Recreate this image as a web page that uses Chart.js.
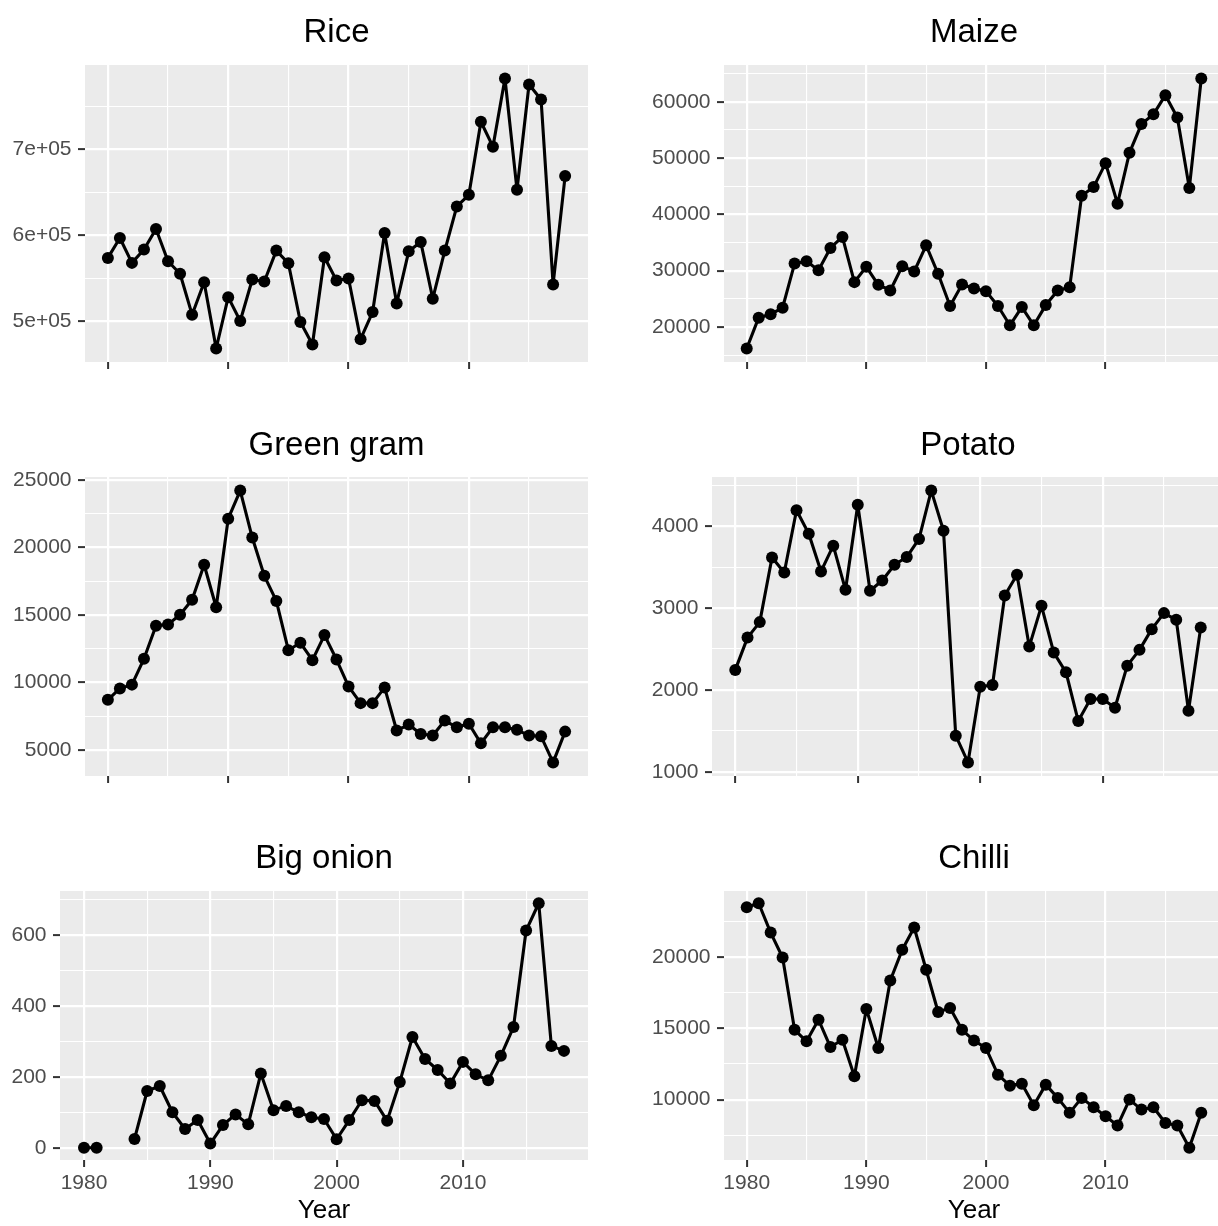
<!DOCTYPE html>
<html>
<head>
<meta charset="utf-8">
<title>Production by crop, 1980–2018</title>
<script src="https://cdn.jsdelivr.net/npm/chart.js@4.4.1/dist/chart.umd.min.js"></script>
<style>
  html, body { margin: 0; padding: 0; background: #ffffff; overflow: hidden; width: 1218px; height: 1226px; position: relative; }
  canvas { position: absolute; display: block; }
</style>
</head>
<body>
<canvas id="rice"></canvas>
<canvas id="maize"></canvas>
<canvas id="greengram"></canvas>
<canvas id="potato"></canvas>
<canvas id="bigonion"></canvas>
<canvas id="chilli"></canvas>
<script>
// ---- data -------------------------------------------------------------
const years = [1980, 1981, 1982, 1983, 1984, 1985, 1986, 1987, 1988, 1989,
               1990, 1991, 1992, 1993, 1994, 1995, 1996, 1997, 1998, 1999,
               2000, 2001, 2002, 2003, 2004, 2005, 2006, 2007, 2008, 2009,
               2010, 2011, 2012, 2013, 2014, 2015, 2016, 2017, 2018];

const rice = [573500, 596700, 567700, 583200, 607200, 569600, 555000, 507400, 545200, 468000,
              527800, 500000, 548400, 546000, 582000, 567300, 498800, 472600, 574200, 547200,
              549500, 478800, 510400, 602600, 520500, 581200, 592100, 526000, 582000, 633400,
              647000, 732000, 703000, 782400, 652800, 775400, 758000, 542600, 669000];

const maize = [16180, 21660, 22250, 23430, 31270, 31680, 30090, 34050, 36000, 27970,
               30690, 27500, 26490, 30800, 29860, 34500, 29450, 23720, 27560, 26850,
               26370, 23720, 20300, 23540, 20300, 23890, 26490, 27080, 43310, 44850,
               49100, 41900, 50970, 56050, 57770, 61180, 57230, 44670, 64140];

const greenGram = [8720, 9560, 9840, 11750, 14200, 14300, 15020, 16120, 18720, 15570,
                   22130, 24210, 20730, 17900, 16040, 12390, 12940, 11650, 13510, 11700,
                   9710, 8470, 8470, 9620, 6440, 6880, 6190, 6070, 7180, 6680,
                   6940, 5490, 6680, 6680, 6490, 6070, 6010, 4080, 6360];

const potato = [2245, 2640, 2829, 3619, 3436, 4195, 3909, 3448, 3763, 3224,
                4264, 3212, 3338, 3530, 3624, 3845, 4436, 3946, 1441, 1115,
                2040, 2061, 3154, 3408, 2530, 3028, 2457, 2217, 1620, 1890,
                1890, 1783, 2297, 2490, 2743, 2939, 2857, 1747, 2763];

// 1982 and 1983 are missing for big onion
const bigOnion = [0, 0, null, null, 25, 160, 174, 100, 53, 78,
                  12, 64, 94, 66, 209, 106, 118, 100, 86, 81,
                  24, 78, 134, 132, 76, 185, 312, 250, 219, 181,
                  242, 207, 190, 259, 340, 612, 689, 287, 273];

const chilli = [23500, 23780, 21720, 19970, 14900, 14090, 15610, 13690, 14200, 11640,
                16360, 13620, 18360, 20510, 22080, 19110, 16150, 16430, 14900, 14140,
                13620, 11750, 10980, 11120, 9600, 11050, 10120, 9070, 10120, 9460,
                8830, 8180, 10000, 9300, 9460, 8360, 8180, 6620, 9070];

// labelled axis breaks; minor gridlines fall halfway between them
const yearBreaks = [1980, 1990, 2000, 2010];
const riceBreaks = [500000, 600000, 700000];
const maizeBreaks = [20000, 30000, 40000, 50000, 60000];
const greenGramBreaks = [5000, 10000, 15000, 20000, 25000];
const potatoBreaks = [1000, 2000, 3000, 4000];
const bigOnionBreaks = [0, 200, 400, 600];
const chilliBreaks = [10000, 15000, 20000];

// ---- styling ----------------------------------------------------------
const FONT = '"Liberation Sans", Arial, Helvetica, sans-serif';
const TITLE_SIZE = 33;
const TICK_SIZE = 21;
const AXIS_TITLE_SIZE = 26;
const PANEL_BG = '#EBEBEB';
const GRID = '#FFFFFF';
const TICK_COLOR = '#333333';
const LABEL_COLOR = '#4D4D4D';
const MAJOR_W = 2.2;
const MINOR_W = 1.1;

// labels like 7e+05
function sci(v) {
  const parts = v.toExponential(0).split('e');
  const sign = parts[1][0] === '-' ? '-' : '+';
  const digits = parts[1].replace(/[+-]/, '').padStart(2, '0');
  return parts[0] + 'e' + sign + digits;
}
const plain = v => String(v);

// ggplot-style 5% expansion of a range
function expand(lo, hi) {
  const d = (hi - lo) * 0.05;
  return [lo - d, hi + d];
}

// major breaks plus the half-way minor breaks that fall inside [min, max]
function breakTicks(breaks, min, max) {
  const half = (breaks[1] - breaks[0]) / 2;
  const out = [];
  for (let v = Math.ceil(min / half) * half; v <= max; v += half) out.push({ value: v });
  return out;
}

const panelBackground = {
  id: 'panelBackground',
  beforeDraw(chart) {
    const a = chart.chartArea;
    const ctx = chart.ctx;
    ctx.save();
    ctx.fillStyle = PANEL_BG;
    ctx.fillRect(a.left, a.top, a.right - a.left, a.bottom - a.top);
    ctx.restore();
  }
};

// canvas box: [left, top, width, height]; area: plot panel edges on the page
const panels = [
  { id: 'rice',      title: 'Rice',       values: rice,      breaks: riceBreaks,      fmt: sci,   xLabels: false,
    box: [0, 0, 600, 405],     area: { l: 85,  r: 588,  t: 65,  b: 362 },  titleY: 33 },
  { id: 'maize',     title: 'Maize',      values: maize,     breaks: maizeBreaks,     fmt: plain, xLabels: false,
    box: [610, 0, 620, 405],   area: { l: 724, r: 1228, t: 65,  b: 362 },  titleY: 33 },
  { id: 'greengram', title: 'Green gram', values: greenGram, breaks: greenGramBreaks, fmt: plain, xLabels: false,
    box: [0, 405, 600, 410],   area: { l: 85,  r: 588,  t: 477, b: 776 },  titleY: 446 },
  { id: 'potato',    title: 'Potato',     values: potato,    breaks: potatoBreaks,    fmt: plain, xLabels: false,
    box: [610, 405, 620, 410], area: { l: 712, r: 1229, t: 477, b: 776 },  titleY: 446 },
  { id: 'bigonion',  title: 'Big onion',  values: bigOnion,  breaks: bigOnionBreaks,  fmt: plain, xLabels: true,
    box: [0, 815, 600, 411],   area: { l: 60,  r: 588,  t: 891, b: 1160 }, titleY: 859 },
  { id: 'chilli',    title: 'Chilli',     values: chilli,    breaks: chilliBreaks,    fmt: plain, xLabels: true,
    box: [610, 815, 620, 411], area: { l: 724, r: 1228, t: 891, b: 1160 }, titleY: 859 }
];

function makePanel(p) {
  const cv = document.getElementById(p.id);
  const [bx, by, bw, bh] = p.box;
  cv.width = bw; cv.height = bh;
  cv.style.left = bx + 'px'; cv.style.top = by + 'px';
  cv.style.width = bw + 'px'; cv.style.height = bh + 'px';

  const present = p.values.filter(v => v !== null);
  const [ymin, ymax] = expand(Math.min(...present), Math.max(...present));
  const [xmin, xmax] = expand(years[0], years[years.length - 1]);

  const lh = TITLE_SIZE * 1.2;
  const titlePadTop = p.titleY - by - lh / 2;
  const titlePadBottom = (p.area.t - by) - titlePadTop - lh;

  const xMajor = v => yearBreaks.includes(v);
  const yMajor = v => p.breaks.includes(v);

  const gridFor = isMajor => ({
    color: GRID,
    lineWidth: c => (c.tick && isMajor(c.tick.value)) ? MAJOR_W : MINOR_W,
    tickColor: c => (c.tick && isMajor(c.tick.value)) ? TICK_COLOR : 'rgba(0,0,0,0)',
    tickWidth: 2,
    tickLength: 7,
    drawTicks: true,
    drawOnChartArea: true
  });

  new Chart(cv, {
    type: 'line',
    data: {
      datasets: [{
        data: years.map((yr, i) => ({ x: yr, y: p.values[i] })),
        borderColor: '#000000',
        backgroundColor: '#000000',
        borderWidth: 3.1,
        borderJoinStyle: 'round',
        borderCapStyle: 'round',
        pointRadius: 6,
        pointBorderWidth: 0,
        pointBackgroundColor: '#000000',
        pointHoverRadius: 6,
        tension: 0,
        spanGaps: false,
        fill: false
      }]
    },
    options: {
      responsive: false,
      animation: false,
      devicePixelRatio: 1,
      events: [],
      layout: { padding: { left: 0, top: 0, bottom: 0, right: (bx + bw) - p.area.r } },
      plugins: {
        legend: { display: false },
        tooltip: { enabled: false },
        title: {
          display: true,
          text: p.title,
          fullSize: false,
          color: '#000000',
          font: { family: FONT, size: TITLE_SIZE, weight: 'normal', lineHeight: 1.2 },
          padding: { top: titlePadTop, bottom: titlePadBottom }
        }
      },
      scales: {
        x: {
          type: 'linear',
          min: xmin,
          max: xmax,
          border: { display: false },
          grid: gridFor(xMajor),
          afterBuildTicks: s => { s.ticks = breakTicks(yearBreaks, xmin, xmax); },
          ticks: {
            autoSkip: false,
            maxRotation: 0,
            padding: 4,
            color: LABEL_COLOR,
            font: { family: FONT, size: TICK_SIZE },
            callback: v => (p.xLabels && xMajor(v)) ? String(v) : ''
          },
          title: {
            display: p.xLabels,
            text: 'Year',
            color: '#000000',
            font: { family: FONT, size: AXIS_TITLE_SIZE, lineHeight: 1.2 },
            padding: { top: 0, bottom: 0 }
          },
          afterFit: s => { s.height = (by + bh) - p.area.b; }
        },
        y: {
          type: 'linear',
          min: ymin,
          max: ymax,
          border: { display: false },
          grid: gridFor(yMajor),
          afterBuildTicks: s => { s.ticks = breakTicks(p.breaks, ymin, ymax); },
          ticks: {
            autoSkip: false,
            padding: 6.5,
            color: LABEL_COLOR,
            font: { family: FONT, size: TICK_SIZE },
            callback: v => yMajor(v) ? p.fmt(v) : ''
          },
          afterFit: s => { s.width = p.area.l - bx; }
        }
      }
    },
    plugins: [panelBackground]
  });
}

panels.forEach(makePanel);
</script>
</body>
</html>
